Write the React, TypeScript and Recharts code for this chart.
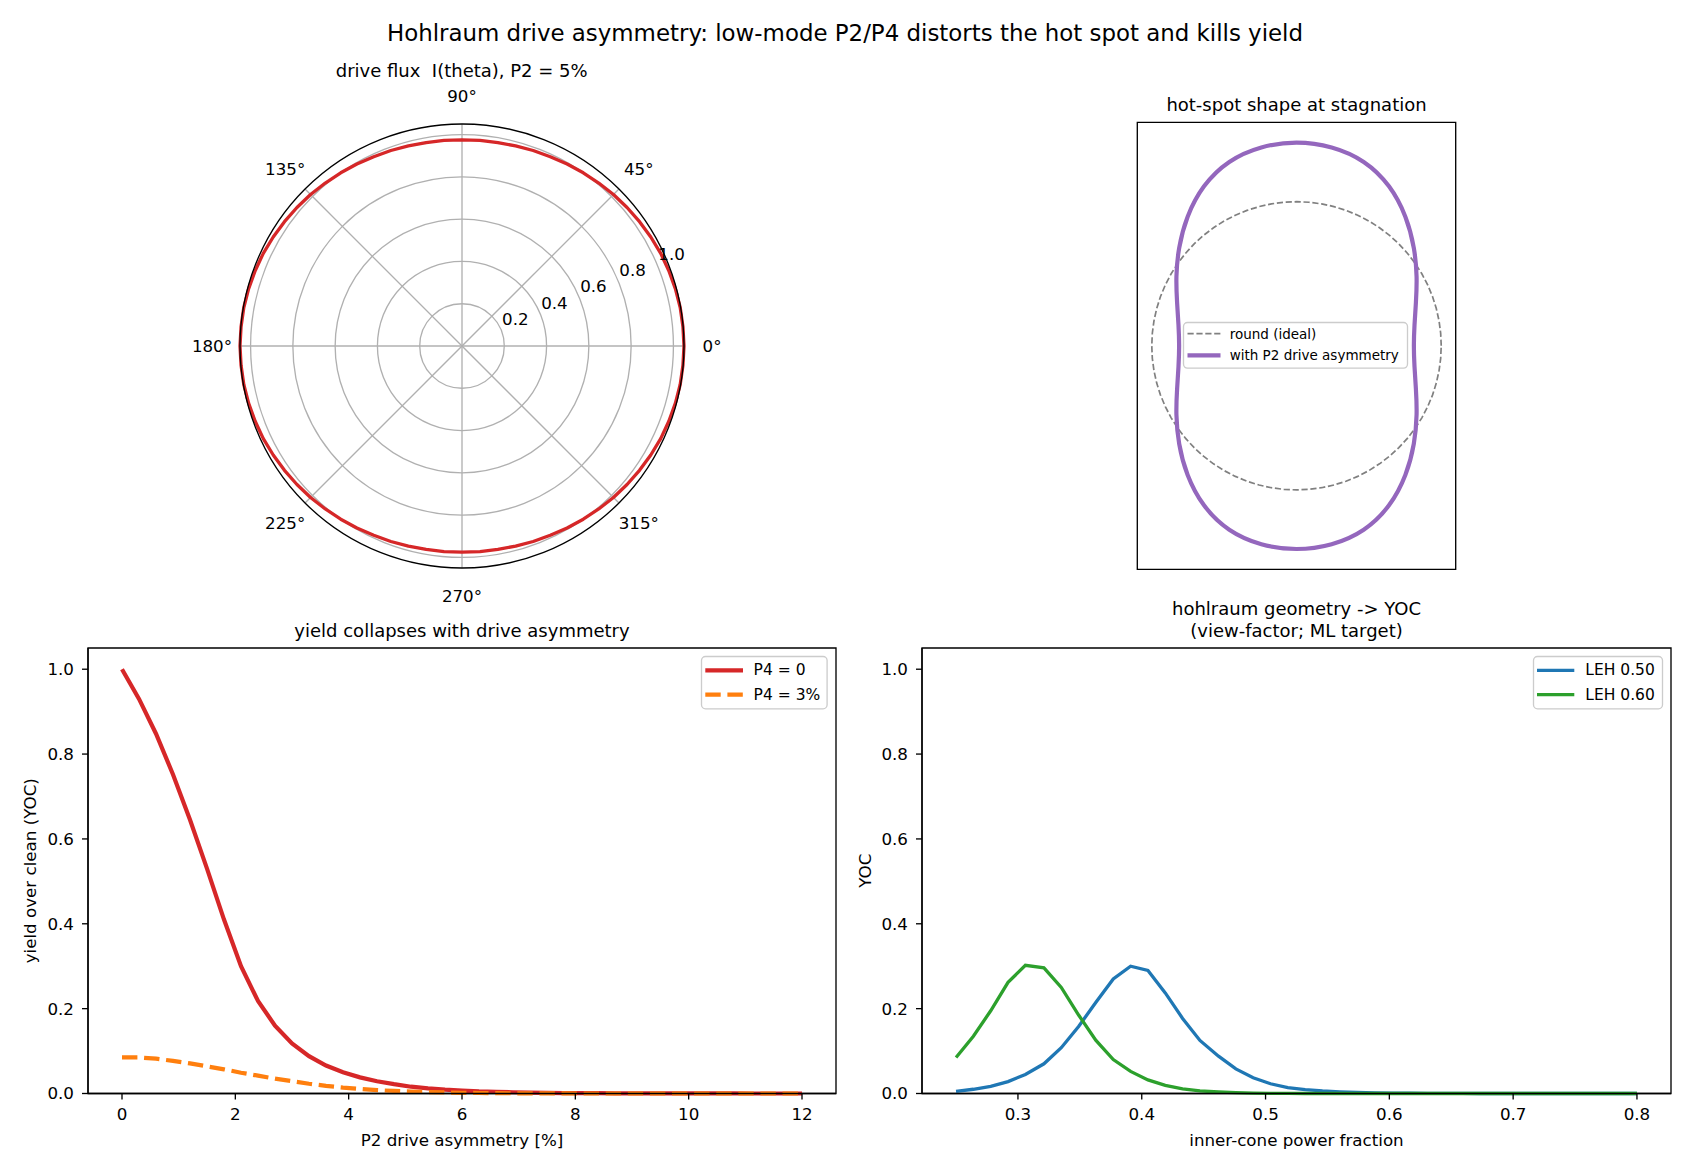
import React from "react";
import {
  LineChart,
  Line,
  XAxis,
  YAxis,
  ReferenceArea,
  Legend,
  RadarChart,
  Radar,
  PolarGrid,
  PolarAngleAxis,
  PolarRadiusAxis,
} from "recharts";

const FONT = '"DejaVu Sans", Verdana, sans-serif';
const TICK_FS = 16.7;
const TITLE_FS = 18;

// --- drive flux I(theta), P2 = 5%  (read for 0..90 deg, the pattern is mirror symmetric)
const FLUX_THETA = [0, 5, 10, 15, 20, 25, 30, 35, 40, 45, 50, 55, 60, 65, 70, 75, 80, 85, 90];
const FLUX_I = [
  1.05, 1.049, 1.048, 1.045, 1.041, 1.037, 1.031, 1.025, 1.019, 1.013, 1.006, 1.0, 0.994, 0.988, 0.984, 0.98, 0.977, 0.976, 0.975,
];
const ANGLE_TICKS = [0, 45, 90, 135, 180, 225, 270, 315];
const RADIUS_TICKS = [0.2, 0.4, 0.6, 0.8, 1.0];

// --- hot-spot radius, normalised to the ideal round radius (read for 0..90 deg from the equator)
const HOT_THETA = [0, 10, 20, 30, 40, 50, 60, 70, 80, 90];
const HOT_R = [0.811, 0.828, 0.878, 0.958, 1.058, 1.17, 1.278, 1.358, 1.398, 1.41];
const IDEAL_RADIUS = 1;

// --- yield vs P2
const P2_PCT = [
  0, 0.3, 0.6, 0.9, 1.2, 1.5, 1.8, 2.1, 2.4, 2.7, 3.0, 3.3, 3.6, 3.9, 4.2, 4.5, 4.8, 5.1, 5.4, 5.7, 6.0,
  6.3, 6.6, 6.9, 7.2, 7.5, 7.8, 8.1, 8.4, 8.7, 9.0, 9.3, 9.6, 9.9, 10.2, 10.5, 10.8, 11.1, 11.4, 11.7, 12.0,
];
const YOC_P4_0 = [
  1.0, 0.93, 0.848, 0.752, 0.645, 0.53, 0.41, 0.3, 0.218, 0.16, 0.118, 0.088, 0.066, 0.05, 0.038, 0.029, 0.022, 0.016, 0.012, 0.009, 0.007,
  0.005, 0.004, 0.003, 0.002, 0.0015, 0.001, 0.001, 0.0007, 0.0005, 0.0004, 0.0003, 0.0002, 0.0002, 0.0001, 0.0001, 0.0001, 0, 0, 0, 0,
];
const YOC_P4_3 = [
  0.085, 0.085, 0.082, 0.077, 0.071, 0.064, 0.057, 0.049, 0.042, 0.035, 0.029, 0.023, 0.018, 0.014, 0.011, 0.008, 0.006, 0.0045, 0.0033, 0.0024, 0.0017,
  0.0012, 0.0008, 0.0005, 0.0003, 0.0002, 0.0001, 0, 0, 0, 0, 0, 0, 0, 0, 0, 0, 0, 0, 0, 0,
];
const P2_TICKS = [0, 2, 4, 6, 8, 10, 12];
const YOC_TICKS = [0, 0.2, 0.4, 0.6, 0.8, 1.0];

// --- hohlraum geometry -> YOC
const INNER_CONE = [
  0.25, 0.264, 0.278, 0.292, 0.306, 0.321, 0.335, 0.349, 0.363, 0.377, 0.391, 0.405, 0.419, 0.433, 0.447, 0.462, 0.476, 0.49, 0.504, 0.518,
  0.532, 0.546, 0.56, 0.574, 0.588, 0.603, 0.617, 0.631, 0.645, 0.659, 0.673, 0.687, 0.701, 0.715, 0.729, 0.744, 0.758, 0.772, 0.786, 0.8,
];
const YOC_LEH_050 = [
  0.005, 0.01, 0.017, 0.028, 0.045, 0.07, 0.108, 0.158, 0.215, 0.27, 0.3, 0.29, 0.237, 0.177, 0.125, 0.088, 0.058, 0.037, 0.023, 0.014,
  0.009, 0.006, 0.004, 0.0025, 0.0015, 0.001, 0.0006, 0.0004, 0.0002, 0.0001, 0, 0, 0, 0, 0, 0, 0, 0, 0, 0,
];
const YOC_LEH_060 = [
  0.085, 0.135, 0.195, 0.262, 0.302, 0.296, 0.25, 0.185, 0.125, 0.08, 0.052, 0.032, 0.019, 0.011, 0.006, 0.0035, 0.002, 0.001, 0.0005, 0.0002,
  0, 0, 0, 0, 0, 0, 0, 0, 0, 0, 0, 0, 0, 0, 0, 0, 0, 0, 0, 0,
];
const CONE_TICKS = [0.3, 0.4, 0.5, 0.6, 0.7, 0.8];

// value of a quarter-read, mirror-symmetric pattern at any angle
function mirrored(thetas: number[], values: number[], angle: number) {
  let t = ((angle % 180) + 180) % 180;
  if (t > 90) t = 180 - t;
  return values[thetas.indexOf(t)];
}

const fluxStep = FLUX_THETA[1] - FLUX_THETA[0];
const fluxRows = Array.from({ length: 360 / fluxStep }, (_, i) => {
  const angle = i * fluxStep;
  return { angle, r: mirrored(FLUX_THETA, FLUX_I, angle) };
});

// closed outline, a little overlap at both ends so the spline joins smoothly
const hotStep = HOT_THETA[1] - HOT_THETA[0];
const hotRows = Array.from({ length: 360 / hotStep + 5 }, (_, i) => {
  const angle = (i - 2) * hotStep;
  const r = mirrored(HOT_THETA, HOT_R, angle);
  const a = (angle * Math.PI) / 180;
  return { x: r * Math.cos(a), y: r * Math.sin(a) };
});
const idealRows = Array.from({ length: 73 }, (_, i) => {
  const a = (i * 5 * Math.PI) / 180;
  return { x: IDEAL_RADIUS * Math.cos(a), y: IDEAL_RADIUS * Math.sin(a) };
});

const yieldRows = P2_PCT.map((x, i) => ({ x, p40: YOC_P4_0[i], p43: YOC_P4_3[i] }));
const coneRows = INNER_CONE.map((x, i) => ({ x, leh50: YOC_LEH_050[i], leh60: YOC_LEH_060[i] }));

const tickStyle = { fill: "#000", fontSize: TICK_FS, fontFamily: FONT };
const axisLineStyle = { stroke: "#000", strokeWidth: 1.33 };

type LegendItem = { label: string; color: string; width: number; dash?: string };

function legendBox(
  items: LegendItem[],
  w: number,
  h: number,
  x1: number,
  x2: number,
  textX: number,
  rows: number[],
  fontSize: number
) {
  return () => (
    <svg width={w} height={h} style={{ display: "block", overflow: "visible" }}>
      <rect x={0.5} y={0.5} width={w - 1} height={h - 1} rx={4} fill="rgba(255,255,255,0.8)" stroke="#cccccc" strokeWidth={1.33} />
      {items.map((it, i) => (
        <g key={it.label}>
          <line x1={x1} x2={x2} y1={rows[i]} y2={rows[i]} stroke={it.color} strokeWidth={it.width} strokeDasharray={it.dash} />
          <text x={textX} y={rows[i]} dominantBaseline="central" fontSize={fontSize} fontFamily={FONT} fill="#000">
            {it.label}
          </text>
        </g>
      ))}
    </svg>
  );
}

const xLabel = (text: string) => (props: any) => {
  const { x, y, width } = props.viewBox;
  return (
    <text x={x + width / 2} y={y + 46} textAnchor="middle" dominantBaseline="central" fontSize={TICK_FS} fontFamily={FONT} fill="#000">
      {text}
    </text>
  );
};

const yLabel = (text: string, dx: number) => (props: any) => {
  const { x, y, height } = props.viewBox;
  const cx = x + dx;
  const cy = y + height / 2;
  return (
    <text x={cx} y={cy} transform={`rotate(-90 ${cx} ${cy})`} textAnchor="middle" dominantBaseline="central" fontSize={TICK_FS} fontFamily={FONT} fill="#000">
      {text}
    </text>
  );
};

const angleTick = (props: any) => {
  const { x, y, payload } = props;
  if (payload.value >= 360) return <g />;
  return (
    <text x={x} y={y} textAnchor="middle" dominantBaseline="central" fontSize={TICK_FS} fontFamily={FONT} fill="#000">
      {`${payload.value}°`}
    </text>
  );
};

const radiusTick = (props: any) => {
  const { x, y, payload } = props;
  if (!payload.value) return <g />;
  return (
    <text x={x + 1} y={y - 11} textAnchor="start" dominantBaseline="central" fontSize={TICK_FS} fontFamily={FONT} fill="#000">
      {Number(payload.value).toFixed(1)}
    </text>
  );
};

function Title({ x, y, size, children }: { x: number; y: number; size: number; children: React.ReactNode }) {
  return (
    <div
      style={{
        position: "absolute",
        left: x,
        top: y,
        transform: "translate(-50%, -50%)",
        fontSize: size,
        lineHeight: "22px",
        whiteSpace: "pre",
        textAlign: "center",
        color: "#000",
      }}
    >
      {children}
    </div>
  );
}

export default function App() {
  return (
    <div style={{ position: "absolute", left: 0, top: 0, width: 1690, height: 1170, background: "#fff", fontFamily: FONT }}>
      <Title x={845} y={33} size={22.9}>
        Hohlraum drive asymmetry: low-mode P2/P4 distorts the hot spot and kills yield
      </Title>

      {/* polar drive flux */}
      <Title x={461.7} y={71} size={TITLE_FS}>
        {"drive flux  I(theta), P2 = 5%"}
      </Title>
      <div style={{ position: "absolute", left: 161.7, top: 45.7 }}>
        <RadarChart
          width={600}
          height={600}
          data={fluxRows}
          cx={300}
          cy={300}
          innerRadius={0}
          outerRadius={222}
          startAngle={0}
          endAngle={360}
          margin={{ top: 0, right: 0, bottom: 0, left: 0 }}
        >
          <PolarGrid gridType="circle" stroke="#b0b0b0" strokeWidth={1.33} />
          <PolarAngleAxis
            dataKey="angle"
            type="number"
            domain={[0, 360]}
            ticks={ANGLE_TICKS}
            tickCount={9}
            axisLineType="circle"
            axisLine={{ stroke: "#000", strokeWidth: 1.33 }}
            tickLine={false}
            tickSize={28}
            tick={angleTick}
          />
          <PolarRadiusAxis
            type="number"
            angle={22.5}
            domain={[0, 1.05]}
            ticks={RADIUS_TICKS}
            axisLine={false}
            tickLine={false}
            tick={radiusTick}
          />
          <Radar dataKey="r" stroke="#d62728" strokeWidth={3.3} strokeLinejoin="round" fill="none" fillOpacity={0} dot={false} isAnimationActive={false} />
        </RadarChart>
      </div>

      {/* hot-spot shape */}
      <Title x={1296.5} y={104.6} size={TITLE_FS}>
        hot-spot shape at stagnation
      </Title>
      <div style={{ position: "absolute", left: 1100, top: 80 }}>
        <LineChart width={400} height={520} margin={{ top: 42.3, right: 44.3, bottom: 30.7, left: 37.3 }}>
          <XAxis type="number" dataKey="x" domain={[-1.1, 1.1]} hide allowDataOverflow />
          <YAxis type="number" domain={[-1.551, 1.551]} hide allowDataOverflow />
          <ReferenceArea x1={-1.1} x2={1.1} y1={-1.551} y2={1.551} fill="none" stroke="#000" strokeWidth={1.33} />
          <Line data={idealRows} dataKey="y" type="linear" stroke="#808080" strokeWidth={1.7} strokeDasharray="6.2 2.7" dot={false} isAnimationActive={false} />
          <Line data={hotRows} dataKey="y" type="natural" stroke="#9467bd" strokeWidth={4.2} dot={false} isAnimationActive={false} />
          <Legend
            layout="horizontal"
            align="center"
            verticalAlign="middle"
            wrapperStyle={{ left: 83.3, top: 241.7, width: 225, height: 46.6 }}
            content={legendBox(
              [
                { label: "round (ideal)", color: "#808080", width: 1.7, dash: "6.2 2.7" },
                { label: "with P2 drive asymmetry", color: "#9467bd", width: 4.2 },
              ],
              225,
              46.6,
              4.5,
              37.5,
              46.7,
              [11.6, 33.3],
              13.5
            )}
          />
        </LineChart>
      </div>

      {/* yield vs P2 */}
      <Title x={462} y={630.6} size={TITLE_FS}>
        yield collapses with drive asymmetry
      </Title>
      <div style={{ position: "absolute", left: 0, top: 600 }}>
        <LineChart width={850} height={570} data={yieldRows} margin={{ top: 48, right: 14, bottom: 36.5, left: 28 }}>
          <XAxis
            type="number"
            dataKey="x"
            domain={[-0.6, 12.6]}
            ticks={P2_TICKS}
            height={40}
            tickSize={6}
            tickMargin={9}
            axisLine={axisLineStyle}
            tickLine={axisLineStyle}
            tick={tickStyle}
            label={xLabel("P2 drive asymmetry [%]")}
          />
          <YAxis
            type="number"
            domain={[0, 1.05]}
            ticks={YOC_TICKS}
            width={60}
            tickSize={6}
            tickMargin={8}
            tickFormatter={(v) => Number(v).toFixed(1)}
            axisLine={axisLineStyle}
            tickLine={axisLineStyle}
            tick={tickStyle}
            label={yLabel("yield over clean (YOC)", 2)}
          />
          <ReferenceArea x1={-0.6} x2={12.6} y1={0} y2={1.05} fill="none" stroke="#000" strokeWidth={1.33} />
          <Line dataKey="p40" name="P4 = 0" type="linear" stroke="#d62728" strokeWidth={4.2} dot={false} isAnimationActive={false} />
          <Line dataKey="p43" name="P4 = 3%" type="linear" stroke="#ff7f0e" strokeWidth={4.2} strokeDasharray="15.4 6.7" dot={false} isAnimationActive={false} />
          <Legend
            layout="horizontal"
            align="center"
            verticalAlign="middle"
            wrapperStyle={{ left: 700.7, top: 55.7, width: 126.6, height: 53.3 }}
            content={legendBox(
              [
                { label: "P4 = 0", color: "#d62728", width: 4.2 },
                { label: "P4 = 3%", color: "#ff7f0e", width: 4.2, dash: "15.4 6.7" },
              ],
              126.6,
              53.3,
              4.3,
              42,
              52.6,
              [14.3, 38.6],
              15.5
            )}
          />
        </LineChart>
      </div>

      {/* geometry -> YOC */}
      <Title x={1296.5} y={620} size={TITLE_FS}>
        {"hohlraum geometry -> YOC\n(view-factor; ML target)"}
      </Title>
      <div style={{ position: "absolute", left: 850, top: 600 }}>
        <LineChart width={840} height={570} data={coneRows} margin={{ top: 48, right: 19, bottom: 36.5, left: 12 }}>
          <XAxis
            type="number"
            dataKey="x"
            domain={[0.2225, 0.8275]}
            ticks={CONE_TICKS}
            height={40}
            tickSize={6}
            tickMargin={9}
            tickFormatter={(v) => Number(v).toFixed(1)}
            axisLine={axisLineStyle}
            tickLine={axisLineStyle}
            tick={tickStyle}
            label={xLabel("inner-cone power fraction")}
          />
          <YAxis
            type="number"
            domain={[0, 1.05]}
            ticks={YOC_TICKS}
            width={60}
            tickSize={6}
            tickMargin={8}
            tickFormatter={(v) => Number(v).toFixed(1)}
            axisLine={axisLineStyle}
            tickLine={axisLineStyle}
            tick={tickStyle}
            label={yLabel("YOC", 2.5)}
          />
          <ReferenceArea x1={0.2225} x2={0.8275} y1={0} y2={1.05} fill="none" stroke="#000" strokeWidth={1.33} />
          <Line dataKey="leh50" name="LEH 0.50" type="linear" stroke="#1f77b4" strokeWidth={3.3} dot={false} isAnimationActive={false} />
          <Line dataKey="leh60" name="LEH 0.60" type="linear" stroke="#2ca02c" strokeWidth={3.3} dot={false} isAnimationActive={false} />
          <Legend
            layout="horizontal"
            align="center"
            verticalAlign="middle"
            wrapperStyle={{ left: 682.7, top: 55.7, width: 130, height: 53.3 }}
            content={legendBox(
              [
                { label: "LEH 0.50", color: "#1f77b4", width: 3.3 },
                { label: "LEH 0.60", color: "#2ca02c", width: 3.3 },
              ],
              130,
              53.3,
              4,
              41.3,
              52.3,
              [14.3, 38.6],
              15.5
            )}
          />
        </LineChart>
      </div>
    </div>
  );
}
